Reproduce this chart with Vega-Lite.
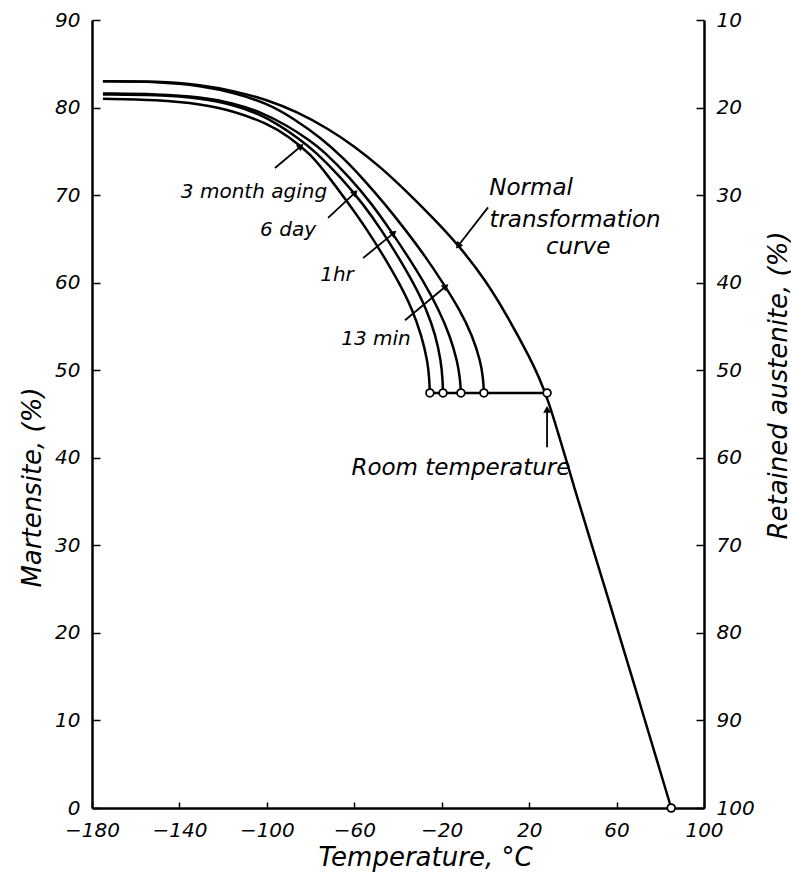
{
  "$schema": "https://vega.github.io/schema/vega-lite/v6.json",
  "width": 612,
  "height": 788,
  "autosize": {"type": "none"},
  "padding": {"left": 92, "top": 20, "right": 87, "bottom": 87},
  "background": "white",
  "config": {
    "view": {"stroke": null},
    "font": "DejaVu Sans",
    "axis": {
      "domainColor": "black",
      "domainWidth": 2.5,
      "tickColor": "black",
      "tickWidth": 1.5,
      "labelColor": "black",
      "labelFont": "DejaVu Sans",
      "labelFontStyle": "italic",
      "labelFontSize": 20,
      "labelFlush": false,
      "labelOverlap": false,
      "titleFont": "DejaVu Sans",
      "titleFontStyle": "italic",
      "titleFontWeight": "normal",
      "titleColor": "black",
      "titleFontSize": 26,
      "grid": false
    }
  },
  "datasets": {
    "curves": [
      {"s": "normal", "t": -175, "m": 83},
      {"s": "normal", "t": -150, "m": 83},
      {"s": "normal", "t": -130, "m": 82.6},
      {"s": "normal", "t": -115, "m": 81.9},
      {"s": "normal", "t": -100, "m": 80.9},
      {"s": "normal", "t": -86, "m": 79.5},
      {"s": "normal", "t": -72, "m": 77.6},
      {"s": "normal", "t": -60, "m": 75.6},
      {"s": "normal", "t": -48, "m": 73.2},
      {"s": "normal", "t": -36, "m": 70.4},
      {"s": "normal", "t": -24, "m": 67.4},
      {"s": "normal", "t": -12, "m": 64.2},
      {"s": "normal", "t": 0, "m": 60.3},
      {"s": "normal", "t": 10, "m": 56.2},
      {"s": "normal", "t": 20, "m": 51.6},
      {"s": "normal", "t": 28.2, "m": 47.4},
      {"s": "normal", "t": 40, "m": 37},
      {"s": "normal", "t": 56.5, "m": 23.7},
      {"s": "normal", "t": 70, "m": 12.5},
      {"s": "normal", "t": 85, "m": 0},
      {"s": "13min", "t": -175, "m": 83},
      {"s": "13min", "t": -150, "m": 82.95},
      {"s": "13min", "t": -130, "m": 82.5},
      {"s": "13min", "t": -115, "m": 81.7},
      {"s": "13min", "t": -100, "m": 80.5},
      {"s": "13min", "t": -88, "m": 78.8},
      {"s": "13min", "t": -75, "m": 76.5},
      {"s": "13min", "t": -64, "m": 74},
      {"s": "13min", "t": -56.5, "m": 72},
      {"s": "13min", "t": -46, "m": 69},
      {"s": "13min", "t": -36.5, "m": 66},
      {"s": "13min", "t": -27.5, "m": 63},
      {"s": "13min", "t": -19.5, "m": 60},
      {"s": "13min", "t": -12, "m": 57},
      {"s": "13min", "t": -6, "m": 54},
      {"s": "13min", "t": -2.2, "m": 51},
      {"s": "13min", "t": -1, "m": 49},
      {"s": "13min", "t": -0.7, "m": 47.4},
      {"s": "1hr", "t": -175, "m": 81.6},
      {"s": "1hr", "t": -150, "m": 81.55},
      {"s": "1hr", "t": -130, "m": 81.2},
      {"s": "1hr", "t": -115, "m": 80.5},
      {"s": "1hr", "t": -103, "m": 79.5},
      {"s": "1hr", "t": -91, "m": 78},
      {"s": "1hr", "t": -80, "m": 76.2},
      {"s": "1hr", "t": -74, "m": 75},
      {"s": "1hr", "t": -62, "m": 72},
      {"s": "1hr", "t": -52, "m": 69},
      {"s": "1hr", "t": -43.5, "m": 66},
      {"s": "1hr", "t": -35.5, "m": 63},
      {"s": "1hr", "t": -28, "m": 60},
      {"s": "1hr", "t": -21.5, "m": 57},
      {"s": "1hr", "t": -16.3, "m": 54},
      {"s": "1hr", "t": -12.8, "m": 51},
      {"s": "1hr", "t": -11.6, "m": 49},
      {"s": "1hr", "t": -11.2, "m": 47.4},
      {"s": "6day", "t": -175, "m": 81.5},
      {"s": "6day", "t": -150, "m": 81.45},
      {"s": "6day", "t": -130, "m": 81.05},
      {"s": "6day", "t": -115, "m": 80.3},
      {"s": "6day", "t": -104, "m": 79.3},
      {"s": "6day", "t": -95, "m": 78.1},
      {"s": "6day", "t": -85, "m": 76.4},
      {"s": "6day", "t": -78, "m": 75},
      {"s": "6day", "t": -66, "m": 72},
      {"s": "6day", "t": -56, "m": 69},
      {"s": "6day", "t": -47.5, "m": 66},
      {"s": "6day", "t": -40, "m": 63},
      {"s": "6day", "t": -33, "m": 60},
      {"s": "6day", "t": -27, "m": 57},
      {"s": "6day", "t": -22.8, "m": 54},
      {"s": "6day", "t": -20.3, "m": 51},
      {"s": "6day", "t": -19.6, "m": 49},
      {"s": "6day", "t": -19.4, "m": 47.4},
      {"s": "3month", "t": -175, "m": 81},
      {"s": "3month", "t": -150, "m": 80.9},
      {"s": "3month", "t": -130, "m": 80.4},
      {"s": "3month", "t": -115, "m": 79.6},
      {"s": "3month", "t": -100, "m": 78.2},
      {"s": "3month", "t": -90, "m": 76.7},
      {"s": "3month", "t": -80, "m": 74.7},
      {"s": "3month", "t": -72, "m": 72.2},
      {"s": "3month", "t": -62.5, "m": 69},
      {"s": "3month", "t": -54, "m": 66},
      {"s": "3month", "t": -46.5, "m": 63},
      {"s": "3month", "t": -39.5, "m": 60},
      {"s": "3month", "t": -33.5, "m": 57},
      {"s": "3month", "t": -29.3, "m": 54},
      {"s": "3month", "t": -26.4, "m": 51},
      {"s": "3month", "t": -25.7, "m": 49},
      {"s": "3month", "t": -25.4, "m": 47.4}
    ],
    "room": [
      {"t": -25.4, "m": 47.4},
      {"t": 28.2, "m": 47.4}
    ],
    "circles": [
      {"t": -25.4, "m": 47.4},
      {"t": -19.4, "m": 47.4},
      {"t": -11.2, "m": 47.4},
      {"t": -0.7, "m": 47.4},
      {"t": 28.2, "m": 47.4},
      {"t": 85, "m": 0}
    ],
    "arrows": [
      {"x1": -96.3, "y1": 73.1, "x2": -84.8, "y2": 75.5},
      {"x1": -72, "y1": 67.4, "x2": -60, "y2": 70.2},
      {"x1": -56, "y1": 62.8, "x2": -42.3, "y2": 65.6},
      {"x1": -36.8, "y1": 55.7, "x2": -18.5, "y2": 59.5},
      {"x1": 1.2, "y1": 68.6, "x2": -12.2, "y2": 64.3},
      {"x1": 28.2, "y1": 41.2, "x2": 28.2, "y2": 45.4}
    ],
    "smallLabels": [
      {"t": -105.9, "m": 70.3, "text": "3 month aging"},
      {"t": -90.3, "m": 66, "text": "6 day"},
      {"t": -67.9, "m": 60.9, "text": "1hr"},
      {"t": -50.1, "m": 53.6, "text": "13 min"}
    ],
    "bigLabels": [
      {"t": 20.9, "m": 70.8, "text": "Normal"},
      {"t": 41, "m": 67.2, "text": "transformation"},
      {"t": 42.4, "m": 64.1, "text": "curve"},
      {"t": -11.2, "m": 38.8, "text": "Room temperature"}
    ]
  },
  "layer": [
    {
      "data": {"name": "curves"},
      "mark": {"type": "line", "color": "black", "strokeWidth": 2.5, "interpolate": "basis"},
      "encoding": {
        "x": {
          "field": "t", "type": "quantitative",
          "scale": {"domain": [-180, 100], "nice": false, "zero": false},
          "axis": {
            "title": "Temperature, °C",
            "values": [-180, -140, -100, -60, -20, 20, 60, 100],
            "tickSize": -6,
            "labelPadding": 18,
            "titlePadding": 4,
            "titleX": 333
          }
        },
        "y": {
          "field": "m", "type": "quantitative",
          "scale": {"domain": [0, 90], "nice": false, "zero": false},
          "axis": {
            "title": "Martensite, (%)",
            "orient": "left",
            "values": [0, 10, 20, 30, 40, 50, 60, 70, 80, 90],
            "tickSize": -8,
            "labelPadding": 20,
            "titleBaseline": "middle",
            "titleAngle": 270,
            "titleX": -60,
            "titleY": 467
          }
        },
        "detail": {"field": "s"}
      }
    },
    {
      "data": {"name": "room"},
      "mark": {"type": "line", "color": "black", "strokeWidth": 2.5},
      "encoding": {
        "x": {
          "field": "t", "type": "quantitative",
          "axis": {
            "title": "Temperature, °C",
            "values": [-180, -140, -100, -60, -20, 20, 60, 100],
            "tickSize": -6,
            "labelPadding": 18,
            "titlePadding": 4,
            "titleX": 333
          }
        },
        "y": {"field": "m", "type": "quantitative", "axis": null}
      }
    },
    {
      "data": {"name": "arrows"},
      "mark": {"type": "rule", "color": "black", "strokeWidth": 1.8},
      "encoding": {
        "x": {
          "field": "x1", "type": "quantitative",
          "axis": {
            "title": "Temperature, °C",
            "values": [-180, -140, -100, -60, -20, 20, 60, 100],
            "tickSize": -6,
            "labelPadding": 18,
            "titlePadding": 4,
            "titleX": 333
          }
        },
        "y": {"field": "y1", "type": "quantitative", "axis": null},
        "x2": {"field": "x2"},
        "y2": {"field": "y2"}
      }
    },
    {
      "data": {"name": "arrows"},
      "transform": [
        {"calculate": "atan2((datum.x2 - datum.x1) * 2.1857, (datum.y2 - datum.y1) * 8.756) * 180 / PI", "as": "ang"}
      ],
      "mark": {"type": "point", "shape": "triangle", "filled": true, "color": "black", "size": 60, "opacity": 1},
      "encoding": {
        "x": {
          "field": "x2", "type": "quantitative",
          "axis": {
            "title": "Temperature, °C",
            "values": [-180, -140, -100, -60, -20, 20, 60, 100],
            "tickSize": -6,
            "labelPadding": 18,
            "titlePadding": 4,
            "titleX": 333
          }
        },
        "y": {"field": "y2", "type": "quantitative", "axis": null},
        "angle": {"field": "ang", "type": "quantitative", "scale": null}
      }
    },
    {
      "data": {"name": "smallLabels"},
      "mark": {"type": "text", "font": "DejaVu Sans", "fontStyle": "italic", "fontSize": 20, "align": "center", "baseline": "middle", "color": "black"},
      "encoding": {
        "x": {
          "field": "t", "type": "quantitative",
          "axis": {
            "title": "Temperature, °C",
            "values": [-180, -140, -100, -60, -20, 20, 60, 100],
            "tickSize": -6,
            "labelPadding": 18,
            "titlePadding": 4,
            "titleX": 333
          }
        },
        "y": {"field": "m", "type": "quantitative", "axis": null},
        "text": {"field": "text"}
      }
    },
    {
      "data": {"name": "bigLabels"},
      "mark": {"type": "text", "font": "DejaVu Sans", "fontStyle": "italic", "fontSize": 23, "align": "center", "baseline": "middle", "color": "black"},
      "encoding": {
        "x": {
          "field": "t", "type": "quantitative",
          "axis": {
            "title": "Temperature, °C",
            "values": [-180, -140, -100, -60, -20, 20, 60, 100],
            "tickSize": -6,
            "labelPadding": 18,
            "titlePadding": 4,
            "titleX": 333
          }
        },
        "y": {"field": "m", "type": "quantitative", "axis": null},
        "text": {"field": "text"}
      }
    },
    {
      "data": {"name": "circles"},
      "mark": {"type": "point", "shape": "circle", "filled": true, "fill": "white", "stroke": "black", "strokeWidth": 1.8, "size": 60, "opacity": 1},
      "encoding": {
        "x": {
          "field": "t", "type": "quantitative",
          "axis": {
            "title": "Temperature, °C",
            "values": [-180, -140, -100, -60, -20, 20, 60, 100],
            "tickSize": -6,
            "labelPadding": 18,
            "titlePadding": 4,
            "titleX": 333
          }
        },
        "y": {
          "field": "m", "type": "quantitative",
          "axis": {
            "title": "Retained austenite, (%)",
            "orient": "right",
            "values": [0, 10, 20, 30, 40, 50, 60, 70, 80, 90],
            "labelExpr": "100 - datum.value",
            "tickSize": -8,
            "labelPadding": 20,
            "titleBaseline": "middle",
            "titleAngle": 270,
            "titleX": 74,
            "titleY": 365
          }
        }
      }
    }
  ],
  "resolve": {"axis": {"y": "independent"}}
}
